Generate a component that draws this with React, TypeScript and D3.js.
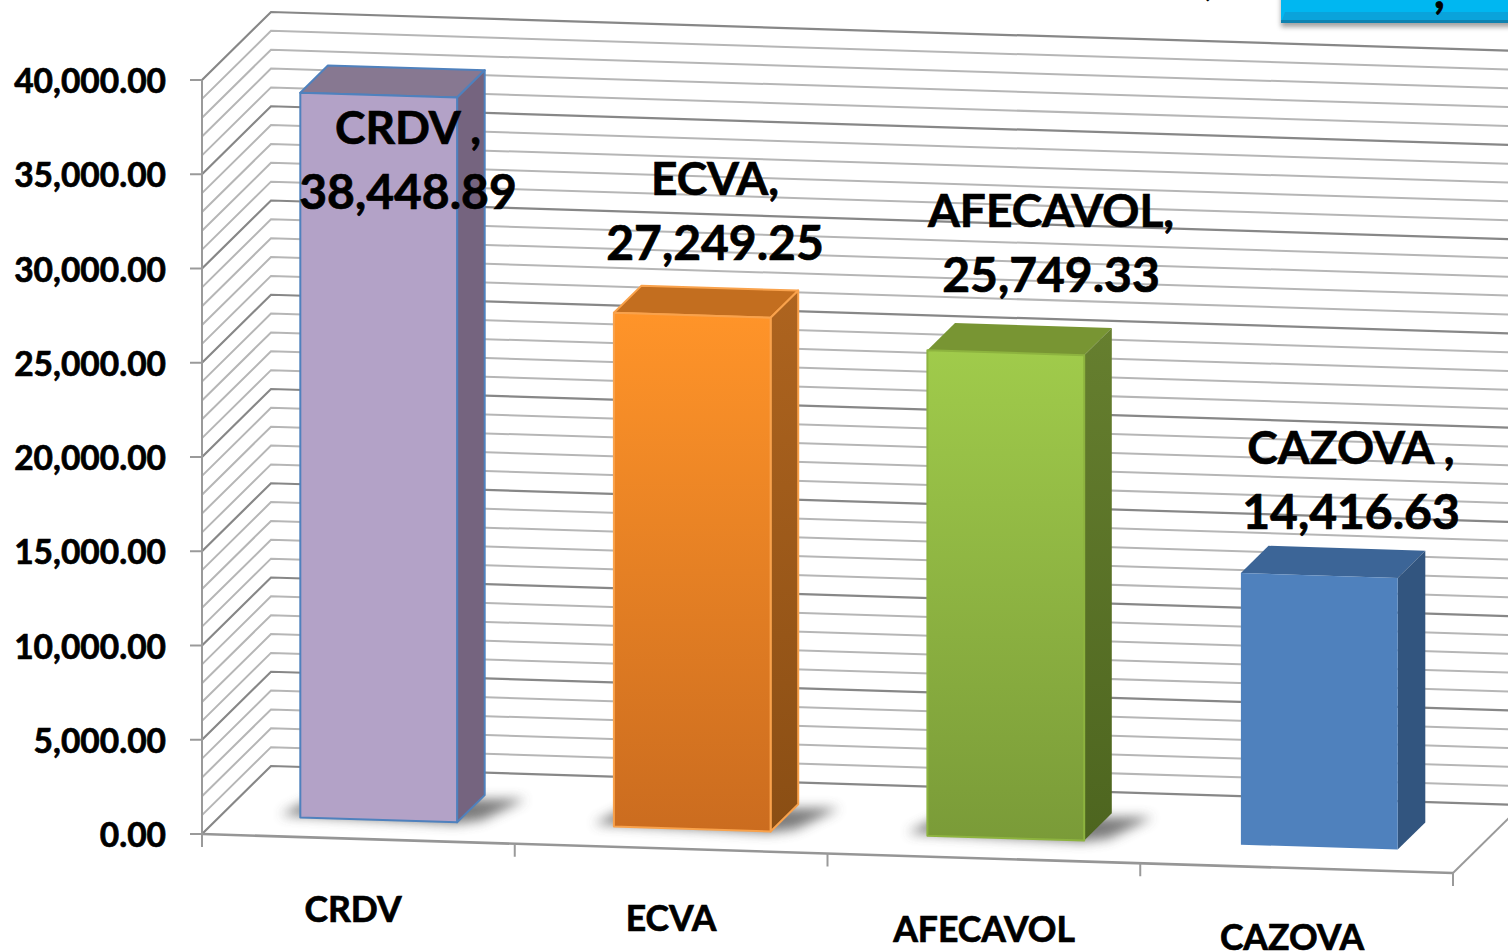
import React from "react";
import * as d3 from "d3";

const categories = ["CRDV", "ECVA", "AFECAVOL", "CAZOVA"];
const values = [38448.89, 27249.25, 25749.33, 14416.63];
const valueLabels = ["38,448.89", "27,249.25", "25,749.33", "14,416.63"];
const labelFirstLines = ["CRDV ,", "ECVA,", "AFECAVOL,", "CAZOVA ,"];
const yTicks = [0, 5000, 10000, 15000, 20000, 25000, 30000, 35000, 40000];
const minorStep = 1000;
const frontColors = [["#B3A2C7", "#B3A2C7"], ["#FF9429", "#CB6C1F"], ["#A0CB4B", "#7A9B38"], ["#4F81BD", "#4F81BD"]];
const topColors = ["#877891", "#C36E1F", "#789533", "#3C6597"];
const sideColors = [["#75647F", "#75647F"], ["#AE641F", "#8A4E14"], ["#667F2F", "#4D651F"], ["#32557F", "#32557F"]];
const strokeColors = ["#4F81BD", "#F9A24C", "#8DB33F", "none"];
const hasShadow = [true, true, true, false];
const labelX = [408, 715, 1051, 1351];
const labelY = [144, 195, 227, 464];
const catLabelX = [353, 671, 984, 1292];
const catLabelY = [922, 931, 942, 950];

const W = 1508, H = 951;
const font = "Lato, 'Open Sans', sans-serif";
const xFront = d3.scaleLinear().domain([0, 4]).range([202, 1453]);
const band = d3.scaleBand<number>().domain([0, 1, 2, 3]).range([0.002, 4.012]).paddingInner(0.5).paddingOuter(0.25);
const yVal = d3.scaleLinear().domain([0, 40000]).range([0, 754]);
const depthX = d3.scaleLinear().domain([0, 1]).range([0, 69]);
const depthY = d3.scaleLinear().domain([0, 1]).range([0, -68]);
const barLift = d3.scaleLinear().domain([0, 3]).range([0, -2]);
const slope = 39 / 1251;

// project (category position u, value v, depth d) to the page
const P = (u: number, v: number, d: number): [number, number] => {
  const x0 = xFront(u);
  return [x0 + depthX(d), 834 + (x0 - 202) * slope - yVal(v) + depthY(d)];
};
const poly = (pts: [number, number][]) => pts.map((p) => p.map((n) => n.toFixed(1)).join(",")).join(" ");
const line = d3.line();

const D0 = 0.28, D1 = 0.68;
const heavy = { stroke: "#000", strokeWidth: 0.7, paintOrder: "stroke" as const };

export default function App() {
  const minors = d3.range(0, 40000 + 1, minorStep);
  return (
    <svg width={W} height={H} viewBox={`0 0 ${W} ${H}`} style={{ position: "absolute", left: 0, top: 0, background: "#fff" }}>
      <defs>
        <filter id="blur" x="-30%" y="-100%" width="160%" height="300%"><feGaussianBlur stdDeviation="6" /></filter>
        <filter id="bs" x="-5%" y="-50%" width="110%" height="250%"><feGaussianBlur stdDeviation="2.5" /></filter>
        {categories.map((_, i) => (
          <React.Fragment key={i}>
            <linearGradient id={`f${i}`} x1="0" x2="0" y1="0" y2="1">
              <stop offset="0" stopColor={frontColors[i][0]} />
              <stop offset="1" stopColor={frontColors[i][1]} />
            </linearGradient>
            <linearGradient id={`s${i}`} x1="0" x2="0" y1="0" y2="1">
              <stop offset="0" stopColor={sideColors[i][0]} />
              <stop offset="1" stopColor={sideColors[i][1]} />
            </linearGradient>
          </React.Fragment>
        ))}
      </defs>

      {/* walls and gridlines */}
      {minors.map((v) => {
        const major = v % 5000 === 0;
        return (
          <path
            key={v}
            d={line([P(0, v, 0), P(0, v, 1), P(4, v, 1)]) as string}
            fill="none"
            stroke={major ? "#878787" : "#b6b6b6"}
            strokeWidth={major ? 2.2 : 2}
          />
        );
      })}

      {/* floor edge and axes */}
      <path d={line([P(4, 0, 0), P(4, 0, 1)]) as string} stroke="#9a9a9a" strokeWidth={2} fill="none" />
      <path d={line([P(0, 0, 0), P(4, 0, 0)]) as string} stroke="#969696" strokeWidth={2.6} fill="none" />
      <path d={line([P(0, 0, 0), P(0, 40000, 0)]) as string} stroke="#9a9a9a" strokeWidth={2} fill="none" />
      {yTicks.map((t) => {
        const [x, y] = P(0, t, 0);
        return (
          <g key={t}>
            <line x1={x - 12} x2={x} y1={y} y2={y} stroke="#9a9a9a" strokeWidth={2} />
            <text x={166} y={y + 13} textAnchor="end" fontFamily={font} fontWeight={700} fontSize={33.5} fill="#000" {...heavy}>
              {d3.format(",.2f")(t)}
            </text>
          </g>
        );
      })}
      {[0, 1, 2, 3, 4].map((u) => {
        const [x, y] = P(u, 0, 0);
        return <line key={u} x1={x} x2={x} y1={y} y2={y + 13} stroke="#9a9a9a" strokeWidth={2} />;
      })}

      {/* shadows */}
      {categories.map((_, i) => {
        if (!hasShadow[i]) return null;
        const u0 = band(i) as number;
        const u1 = u0 + band.bandwidth();
        return (
          <polygon
            key={i}
            filter="url(#blur)"
            fill="#4a4a4a"
            opacity={0.72}
            transform={`translate(0,${barLift(i)})`}
            points={poly([P(u0 - 0.07, 0, D0 + 0.03), P(u0 - 0.02, 0, D0 + 0.28), P(u1 + 0.14, 0, D1 - 0.04), P(u1 + 0.07, 0, D0 + 0.04), P(u1, 0, D0 - 0.02)])}
          />
        );
      })}

      {/* bars */}
      {categories.map((_, i) => {
        const u0 = band(i) as number;
        const u1 = u0 + band.bandwidth();
        const v = values[i];
        const st = { stroke: strokeColors[i], strokeWidth: 2, strokeLinejoin: "round" as const };
        return (
          <g key={i} transform={`translate(0,${barLift(i)})`}>
            <polygon points={poly([P(u0, v, D0), P(u0, v, D1), P(u1, v, D1), P(u1, v, D0)])} fill={topColors[i]} {...st} stroke={i === 2 ? "none" : st.stroke} />
            <polygon points={poly([P(u1, 0, D0), P(u1, v, D0), P(u1, v, D1), P(u1, 0, D1)])} fill={`url(#s${i})`} {...st} stroke={i === 2 ? "none" : st.stroke} />
            <polygon points={poly([P(u0, 0, D0), P(u0, v, D0), P(u1, v, D0), P(u1, 0, D0)])} fill={`url(#f${i})`} {...st} />
          </g>
        );
      })}

      {/* data labels */}
      {categories.map((_, i) => (
        <text key={i} textAnchor="middle" fontFamily={font} fontWeight={700} fill="#000" {...heavy}>
          <tspan x={labelX[i]} y={labelY[i]} fontSize={46}>{labelFirstLines[i]}</tspan>
          <tspan x={labelX[i]} y={labelY[i] + 65} fontSize={48}>{valueLabels[i]}</tspan>
        </text>
      ))}

      {/* category labels */}
      {categories.map((c, i) => (
        <text key={c} x={catLabelX[i]} y={catLabelY[i]} textAnchor="middle" fontFamily={font} fontWeight={700} fontSize={35.5} fill="#000" {...heavy}>
          {c}
        </text>
      ))}

      {/* cropped box and title at the top right */}
      <text x={1204} y={-5} fontFamily={font} fontWeight={700} fontSize={46} fill="#000">,</text>
      <rect x={1281} y={-6} width={240} height={33} fill="#555" opacity={0.55} filter="url(#bs)" />
      <rect x={1281} y={-10} width={240} height={33} fill="#00B7F1" />
      <polygon points="1281,23 1285,12 1508,12 1508,23" fill="#0AA3DB" />
      <rect x={1281} y={20} width={240} height={3} fill="#0E82B0" />
      <text x={1434} y={8} fontFamily={font} fontWeight={700} fontSize={46} fill="#000" {...heavy}>,</text>
    </svg>
  );
}
